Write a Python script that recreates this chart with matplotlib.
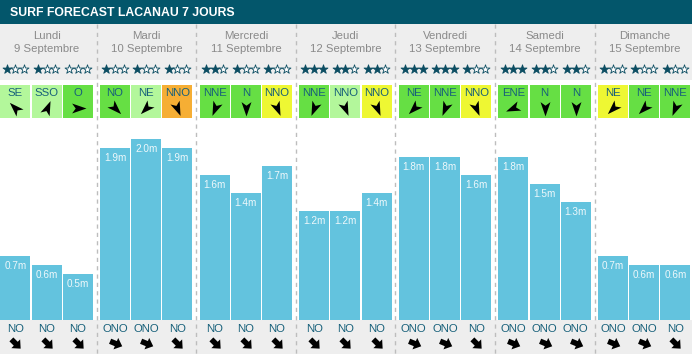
import numpy as np
import matplotlib.pyplot as plt
from matplotlib.patches import Rectangle
from matplotlib.markers import MarkerStyle
from matplotlib.path import Path
from matplotlib.transforms import Affine2D

plt.rcParams['font.family'] = ['Liberation Sans', 'DejaVu Sans']

titre = 'SURF FORECAST LACANAU 7 JOURS'
jours = ['Lundi', 'Mardi', 'Mercredi', 'Jeudi', 'Vendredi', 'Samedi', 'Dimanche']
dates = ['9 Septembre', '10 Septembre', '11 Septembre', '12 Septembre',
         '13 Septembre', '14 Septembre', '15 Septembre']
# hauteur des vagues (m), 3 créneaux par jour
hauteurs = [[0.7, 0.6, 0.5], [1.9, 2.0, 1.9], [1.6, 1.4, 1.7], [1.2, 1.2, 1.4],
            [1.8, 1.8, 1.6], [1.8, 1.5, 1.3], [0.7, 0.6, 0.6]]
etoiles = [[1, 1, 0], [1, 1, 1], [2, 1, 1], [3, 2, 2],
           [3, 3, 1], [3, 2, 2], [1, 1, 1]]
vent_dir = [['SE', 'SSO', 'O'], ['NO', 'NE', 'NNO'], ['NNE', 'N', 'NNO'],
            ['NNE', 'NNO', 'NNO'], ['NE', 'NNE', 'NNO'], ['ENE', 'N', 'N'],
            ['NE', 'NE', 'NNE']]
# qualité du vent : offshore léger / bon / moyen / mauvais
vent_qual = [['clair', 'clair', 'vert'], ['vert', 'clair', 'orange'],
             ['vert', 'vert', 'jaune'], ['vert', 'clair', 'jaune'],
             ['vert', 'vert', 'jaune'], ['vert', 'vert', 'vert'],
             ['jaune', 'vert', 'vert']]
houle_dir = [['NO', 'NO', 'NO'], ['ONO', 'ONO', 'NO'], ['NO', 'NO', 'NO'],
             ['NO', 'NO', 'NO'], ['ONO', 'ONO', 'NO'], ['ONO', 'ONO', 'ONO'],
             ['ONO', 'ONO', 'NO']]

couleurs_vent = {'clair': '#b3f79b', 'vert': '#66df44',
                 'jaune': '#eef733', 'orange': '#f6ae34'}
rose = ['N', 'NNE', 'NE', 'ENE', 'E', 'ESE', 'SE', 'SSE',
        'S', 'SSO', 'SO', 'OSO', 'O', 'ONO', 'NO', 'NNO']
cap = {d: i * 22.5 for i, d in enumerate(rose)}

W, H = 692, 354
teal = '#03566b'
txt_bleu = '#17607a'
bleu_barre = '#63c3de'

# formes des flèches (pointe vers le haut)
fleche_vent = Path([(0, 1), (-0.62, -0.8), (0, -0.35), (0.62, -0.8), (0, 1)],
                   [Path.MOVETO, Path.LINETO, Path.LINETO, Path.LINETO, Path.CLOSEPOLY])
fleche_houle = Path([(0, 1), (-0.85, 0.05), (-0.38, 0.05), (-0.38, -0.8), (0.38, -0.8),
                     (0.38, 0.05), (0.85, 0.05), (0, 1)],
                    [Path.MOVETO] + [Path.LINETO] * 6 + [Path.CLOSEPOLY])


def marqueur(forme, direction):
    # la flèche va vers l'opposé de la provenance
    ang = -(cap[direction] + 180)
    return MarkerStyle(forme, transform=Affine2D().rotate_deg(ang))


fig = plt.figure(figsize=(W / 100, H / 100), dpi=100)
ax = fig.add_axes([0, 0, 1, 1])
ax.set_xlim(0, W)
ax.set_ylim(H, 0)
ax.axis('off')

y_bas = 319.5
y_haut = 118
px_m = 90.5

# fonds
ax.add_patch(Rectangle((0, 0), W, 24, color=teal, lw=0))
ax.add_patch(Rectangle((0, 24), W, 56, color='#eeeeee', lw=0))
ax.add_patch(Rectangle((0, y_bas), W, H - y_bas, color='#eeeeee', lw=0))
ax.text(9.5, 12.5, titre, color='white', fontsize=8.8, fontweight='bold', va='center')

pas_jour = 99.6
pas_slot = 31.2
larg = 30

for d in range(7):
    x0 = 0.4 + d * pas_jour
    cx = x0 + 46.4
    ax.text(cx, 36, jours[d], ha='center', va='center', fontsize=8.2, color='#8a8a8a')
    ax.text(cx, 49.5, dates[d], ha='center', va='center', fontsize=8.2, color='#8a8a8a')
    if d > 0:
        ax.plot([x0 - 3.4, x0 - 3.4], [24, H], ls=(0, (3, 3)), color='#bdbdbd', lw=1)
    for k in range(3):
        sx = x0 + k * pas_slot
        sc = sx + larg / 2
        # étoiles
        for j in range(3):
            plein = j < etoiles[d][k]
            ax.scatter(sc + (j - 1) * 8.8, 68.5, marker='*', s=46,
                       facecolor='#0c4d62' if plein else 'white',
                       edgecolor='#0c4d62', linewidth=0.6, zorder=3)
        # vent
        ax.add_patch(Rectangle((sx, 85), larg, 32.5, lw=0,
                               color=couleurs_vent[vent_qual[d][k]]))
        ax.text(sc, 93.5, vent_dir[d][k], ha='center', va='center',
                fontsize=8.2, color=txt_bleu)
        ax.plot(sc, 108, marker=marqueur(fleche_vent, vent_dir[d][k]),
                ms=11.5, color='black', mew=0)
        # houle
        ax.text(sc, 328.5, houle_dir[d][k], ha='center', va='center',
                fontsize=8.2, color=txt_bleu)
        ax.plot(sc, 342.5, marker=marqueur(fleche_houle, houle_dir[d][k]),
                ms=10.5, color='black', mew=0)

# barres des hauteurs
bx = fig.add_axes([0, (H - y_bas) / H, 1, (y_bas - y_haut) / H])
bx.set_xlim(0, W)
bx.set_ylim(0, (y_bas - y_haut) / px_m)
bx.axis('off')
bx.patch.set_alpha(0)
for d in range(7):
    x0 = 0.4 + d * pas_jour
    xs = [x0 + k * pas_slot for k in range(3)]
    bx.bar(xs, hauteurs[d], width=larg, align='edge', color=bleu_barre, lw=0)
    for x, v in zip(xs, hauteurs[d]):
        bx.annotate(f'{v:.1f}m', (x + larg / 2, v), xytext=(0, -7.3),
                    textcoords='offset points', ha='center', va='center',
                    fontsize=7.2, color='#eef8fb')

fig.savefig('out.png', dpi=100)
